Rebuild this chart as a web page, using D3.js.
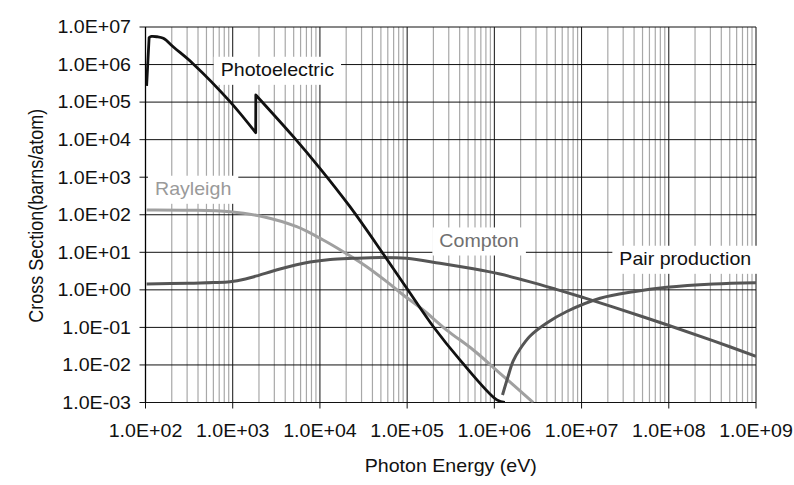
<!DOCTYPE html>
<html>
<head>
<meta charset="utf-8">
<script src="https://cdn.jsdelivr.net/npm/d3@7/dist/d3.min.js"></script>
<style>
  html, body { margin: 0; padding: 0; background: #fff; }
  svg { display: block; font-family: 'Liberation Sans', Arial, sans-serif; }
</style>
</head>
<body>
<div id="chart"></div>
<script>
// tick values and labels
const xTicks = [1e2, 1e3, 1e4, 1e5, 1e6, 1e7, 1e8, 1e9];
const xTickLabels = ['1.0E+02', '1.0E+03', '1.0E+04', '1.0E+05', '1.0E+06', '1.0E+07', '1.0E+08', '1.0E+09'];
const yTicks = [1e-3, 1e-2, 1e-1, 1e0, 1e1, 1e2, 1e3, 1e4, 1e5, 1e6, 1e7];
const yTickLabels = ['1.0E-03', '1.0E-02', '1.0E-01', '1.0E+00', '1.0E+01', '1.0E+02', '1.0E+03', '1.0E+04', '1.0E+05', '1.0E+06', '1.0E+07'];

// series (energy in eV, cross section in barns/atom)
const photoEnergy = [103, 110, 117, 135, 160, 214, 353, 931, 1835, 1840, 4955, 1.0e4, 2.21e4, 5.33e4, 9.9e4, 2.0e5, 4.05e5, 1.07e6, 1.32e6];
const photoSigma  = [2.7e5, 5.2e6, 5.6e6, 5.5e6, 5.0e6, 2.8e6, 1.04e6, 1.03e5, 1.53e4, 1.55e5, 1.2e4, 1726, 164, 9.0, 1.1, 0.104, 0.0135, 1.17e-3, 1.0e-3];
// absorption edges (index of the point just before each jump)
const photoEdges = [0, 8];

const rayEnergy = [103, 316, 931, 2244, 5420, 1.09e4, 1.85e4, 3.44e4, 5.83e4, 9.04e4, 1.53e5, 2.84e5, 5.74e5, 1.16e6, 2.8e6];
const raySigma  = [134, 132, 120, 88.7, 48.1, 21.3, 10.4, 4.13, 1.65, 0.73, 0.29, 0.085, 0.025, 6.0e-3, 9.9e-4];

const comptonEnergy = [103, 316, 600, 931, 1400, 1884, 3483, 7691, 1.31e4, 2.42e4, 4.89e4, 9.9e4, 2.38e5, 5.74e5, 1.16e6, 2.51e6, 5.01e6, 1.0e7, 2.32e7, 9.48e7, 3.25e8, 1.0e9];
const comptonSigma  = [1.43, 1.50, 1.56, 1.65, 1.95, 2.35, 3.6, 5.5, 6.45, 6.92, 7.26, 6.92, 5.09, 3.63, 2.63, 1.66, 1.047, 0.646, 0.347, 0.1175, 0.0437, 0.0170];

const pairEnergy = [1.24e6, 1.43e6, 1.64e6, 1.97e6, 2.57e6, 3.99e6, 6.76e6, 1.63e7, 3.93e7, 9.48e7, 3.24e8, 1.0e9];
const pairSigma  = [1.58e-3, 4.77e-3, 0.0127, 0.0266, 0.059, 0.131, 0.265, 0.596, 0.893, 1.17, 1.43, 1.55];

const width = 794, height = 485;
const margin = {left: 145.5, right: 38, top: 27, bottom: 82.5};
const textScale = 1.09;

const svg = d3.select('#chart').append('svg')
    .attr('width', width)
    .attr('height', height);

svg.append('rect').attr('width', width).attr('height', height).attr('fill', '#fff');

const x = d3.scaleLog().domain([1e2, 1e9]).range([margin.left, width - margin.right]);
const y = d3.scaleLog().domain([1e-3, 1e7]).range([height - margin.bottom, margin.top]);

const [x0, x1] = x.range();
const [y0, y1] = y.range();

svg.append('defs').append('clipPath').attr('id', 'plot-clip')
    .append('rect')
    .attr('x', x0).attr('y', y1)
    .attr('width', x1 - x0).attr('height', y0 - y1);

// minor vertical grid
const minorX = [];
for (let d = 2; d < 9; d++) {
    for (let m = 2; m <= 9; m++) minorX.push(m * Math.pow(10, d));
}
svg.append('g').selectAll('line')
    .data(minorX)
    .enter().append('line')
    .attr('x1', d => x(d)).attr('x2', d => x(d))
    .attr('y1', y1).attr('y2', y0)
    .attr('stroke', '#a8a8a8')
    .attr('stroke-width', 1.2);

// major vertical grid + x ticks
svg.append('g').selectAll('line')
    .data(xTicks)
    .enter().append('line')
    .attr('x1', d => x(d)).attr('x2', d => x(d))
    .attr('y1', y1).attr('y2', y0 + 6)
    .attr('stroke', '#111')
    .attr('stroke-width', 1);

// major horizontal grid + y ticks
svg.append('g').selectAll('line')
    .data(yTicks)
    .enter().append('line')
    .attr('x1', x0 - 6).attr('x2', x1)
    .attr('y1', d => y(d)).attr('y2', d => y(d))
    .attr('stroke', '#111')
    .attr('stroke-width', 1);

// y axis line
svg.append('line')
    .attr('x1', x0).attr('x2', x0)
    .attr('y1', y1).attr('y2', y0)
    .attr('stroke', '#000')
    .attr('stroke-width', 1.3);

// tick labels
svg.append('g').selectAll('text')
    .data(xTicks)
    .enter().append('text')
    .attr('transform', d => `translate(${x(d)},${y0 + 34.5}) scale(${textScale},1)`)
    .attr('text-anchor', 'middle')
    .attr('font-size', 18)
    .attr('fill', '#111')
    .text((d, i) => xTickLabels[i]);

svg.append('g').selectAll('text')
    .data(yTicks)
    .enter().append('text')
    .attr('transform', d => `translate(${x0 - 14.5},${y(d) + 6.3}) scale(${textScale},1)`)
    .attr('text-anchor', 'end')
    .attr('font-size', 18)
    .attr('fill', '#111')
    .text((d, i) => yTickLabels[i]);

// axis titles
svg.append('text')
    .attr('transform', `translate(${(x0 + x1) / 2},${471.5}) scale(${textScale},1)`)
    .attr('text-anchor', 'middle')
    .attr('font-size', 18)
    .attr('fill', '#111')
    .text('Photon Energy (eV)');

svg.append('text')
    .attr('transform', `translate(43,${(y0 + y1) / 2 + 1}) rotate(-90) scale(1,${textScale})`)
    .attr('text-anchor', 'middle')
    .attr('font-size', 18)
    .attr('fill', '#111')
    .text('Cross Section(barns/atom)');

// series labels with white boxes
const labels = [
    {text: 'Photoelectric', e: 728, s: 4.95e5, color: '#111'},
    {text: 'Rayleigh', e: 128.5, s: 336, color: '#9a9a9a'},
    {text: 'Compton', e: 2.34e5, s: 14.1, color: '#707070'},
    {text: 'Pair production', e: 2.71e7, s: 4.59, color: '#111'}
];

labels.forEach(l => {
    const g = svg.append('g')
        .attr('transform', `translate(${x(l.e)},${y(l.s)}) scale(${textScale},1)`);
    const bg = g.append('rect').attr('fill', '#fff');
    const t = g.append('text')
        .attr('font-size', 18)
        .attr('fill', l.color)
        .text(l.text);
    const bb = t.node().getBBox();
    const px = 7 / textScale;
    bg.attr('x', bb.x - px)
        .attr('y', bb.y - 3)
        .attr('width', bb.width + 2 * px)
        .attr('height', bb.height + 8);
});

// curves
const smooth = d3.line()
    .x(p => x(p[0]))
    .y(p => y(p[1]))
    .curve(d3.curveCatmullRom.alpha(0.5));

const zip = (e, s) => e.map((v, i) => [v, s[i]]);

// photoelectric: smooth between edges, straight jump across each edge
function photoPath() {
    const pts = zip(photoEnergy, photoSigma);
    const cuts = [0];
    photoEdges.forEach(i => { cuts.push(i, i + 1); });
    cuts.push(pts.length - 1);
    let d = '';
    for (let k = 0; k < cuts.length - 1; k++) {
        const seg = pts.slice(cuts[k], cuts[k + 1] + 1);
        if (seg.length < 2) continue;
        const part = smooth(seg);
        d += d ? 'L' + part.slice(1) : part;
    }
    return d;
}

const series = [
    {d: smooth(zip(rayEnergy, raySigma)), color: '#a0a0a0', w: 3},
    {d: smooth(zip(comptonEnergy, comptonSigma)), color: '#555', w: 3},
    {d: smooth(zip(pairEnergy, pairSigma)), color: '#555', w: 3},
    {d: photoPath(), color: '#111', w: 2.8}
];

svg.append('g')
    .attr('clip-path', 'url(#plot-clip)')
    .selectAll('path')
    .data(series)
    .enter().append('path')
    .attr('d', d => d.d)
    .attr('fill', 'none')
    .attr('stroke', d => d.color)
    .attr('stroke-width', d => d.w)
    .attr('stroke-linejoin', 'round');
</script>
</body>
</html>
